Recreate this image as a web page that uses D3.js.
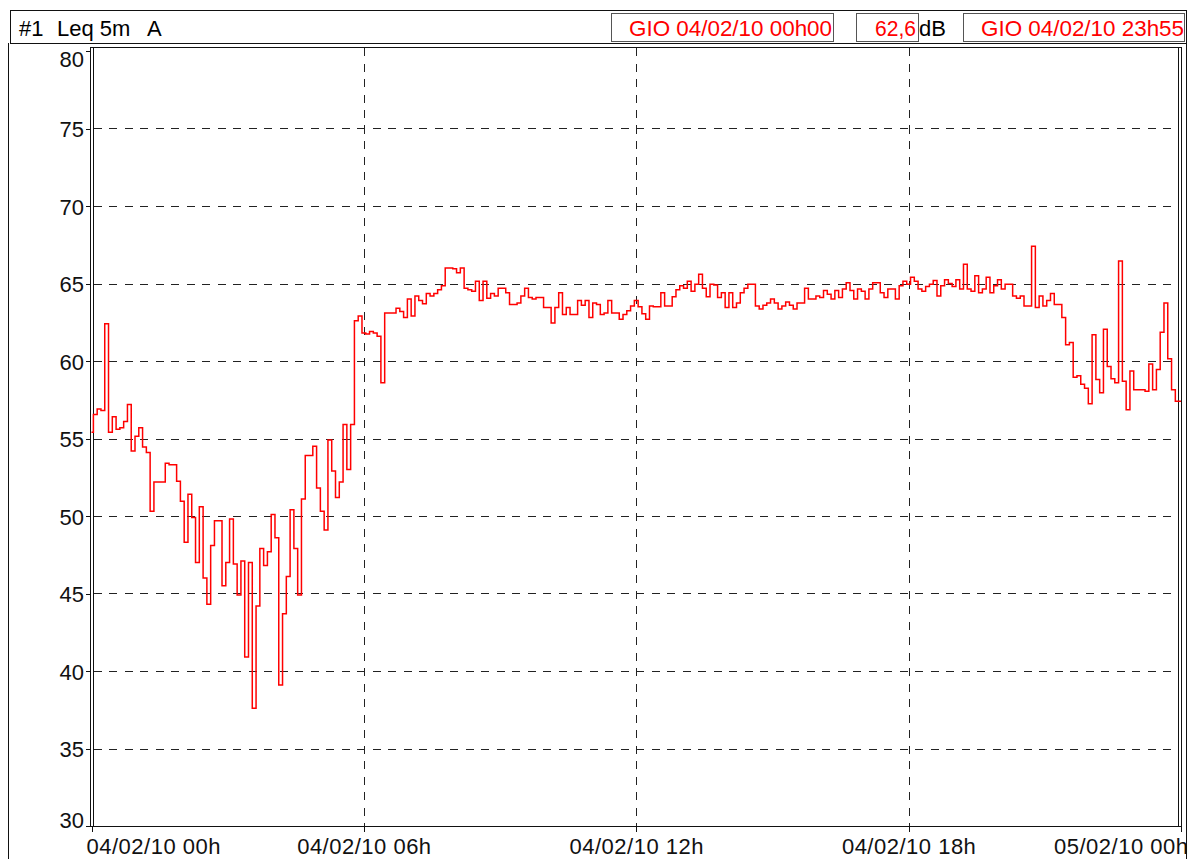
<!DOCTYPE html>
<html>
<head>
<meta charset="utf-8">
<title>Leq 5m A</title>
<style>
body { margin: 0; background: #fff; }
svg { display: block; font-family: "Liberation Sans", Arial, sans-serif; }
.grid line { stroke: #222; stroke-width: 1; stroke-dasharray: 8,7.5; shape-rendering: crispEdges; }
.frame { fill: none; stroke: #111; stroke-width: 1; shape-rendering: crispEdges; }
.trace { fill: none; stroke: #ff0000; stroke-width: 1.5; }
.axis text { font-size: 22px; fill: #111; }
.axis line { stroke: #111; shape-rendering: crispEdges; }
</style>
<script src="https://cdn.jsdelivr.net/npm/d3@7"></script>
</head>
<body>
<script>

// header texts
var channel = "#1";
var measure = "Leq 5m";
var weighting = "A";
var startStamp = "GIO 04/02/10 00h00";
var leqTotal = "62,6";
var unit = "dB";
var endStamp = "GIO 04/02/10 23h55";

// axes
var yTicks = [30, 35, 40, 45, 50, 55, 60, 65, 70, 75, 80];
var xTickHours = [0, 6, 12, 18, 24];
var xTickLabels = ["04/02/10 00h", "04/02/10 06h", "04/02/10 12h", "04/02/10 18h", "05/02/10 00h"];

// Leq 5 min, dB(A), one value every 5 minutes from 00h00 to 23h55
var leqValues = [
  55.4, 56.55, 56.9, 56.8, 62.4, 55.4, 56.4, 55.6, 55.7, 56.1, 57.2, 54.2,
  55.15, 55.7, 54.45, 54.1, 50.3, 52.2, 52.2, 52.2, 53.4, 53.3, 53.3, 52.25,
  50.95, 48.3, 51.4, 49.9, 47.0, 50.6, 46.0, 44.3, 48.1, 49.7, 49.7, 45.5,
  47.0, 49.8, 46.9, 44.9, 47.1, 40.9, 47.0, 37.6, 44.2, 47.9, 46.8, 47.7,
  50.1, 48.6, 39.1, 43.7, 46.1, 50.4, 47.9, 44.9, 51.1, 53.9, 53.9, 54.5,
  51.8, 50.3, 49.1, 54.9, 52.9, 51.2, 52.2, 55.9, 53.0, 55.9, 62.6, 62.9,
  61.8, 61.75, 61.9, 61.8, 61.6, 58.6, 63.1, 63.1, 63.1, 63.4, 63.2, 62.8,
  64.0, 62.9, 64.2, 63.9, 63.7, 64.35, 64.2, 64.35, 64.6, 64.85, 66.0, 66.0,
  65.95, 65.7, 66.0, 64.7, 64.6, 64.5, 65.15, 63.9, 65.15, 64.05, 64.35, 64.2,
  64.7, 64.7, 64.4, 63.65, 63.65, 63.75, 64.2, 64.7, 64.1, 64.0, 64.1, 64.1,
  63.45, 63.45, 62.45, 63.45, 64.4, 63.0, 63.45, 63.0, 63.0, 63.9, 63.6, 63.9,
  62.8, 63.75, 63.65, 63.0, 63.1, 63.9, 63.1, 63.1, 62.7, 63.0, 63.25, 63.55,
  63.9, 63.5, 63.05, 62.7, 63.55, 63.5, 63.5, 64.4, 63.55, 63.55, 64.15, 64.6,
  64.85, 64.7, 65.15, 64.5, 64.95, 65.6, 64.7, 64.15, 64.95, 64.9, 64.1, 64.4,
  63.45, 64.4, 63.45, 63.75, 64.4, 64.7, 64.95, 64.95, 63.55, 63.35, 63.6, 63.75,
  64.0, 63.75, 63.35, 63.55, 63.8, 63.6, 63.35, 63.75, 63.75, 64.7, 64.0, 64.0,
  64.2, 64.1, 64.55, 64.3, 64.0, 64.55, 64.1, 64.65, 65.05, 64.55, 64.0, 64.65,
  64.5, 64.0, 64.65, 65.05, 65.05, 64.4, 64.1, 64.65, 64.65, 64.0, 64.85, 65.15,
  64.95, 65.4, 65.15, 64.65, 64.5, 64.8, 64.95, 65.2, 64.2, 64.85, 65.25, 65.0,
  64.8, 65.25, 64.65, 66.25, 64.65, 64.5, 65.5, 64.4, 64.65, 65.4, 64.4, 64.85,
  65.25, 64.65, 64.95, 64.95, 64.2, 64.05, 64.2, 63.55, 63.55, 67.4, 63.45, 64.2,
  63.55, 63.9, 64.35, 63.65, 63.65, 62.8, 61.05, 61.2, 58.95, 59.05, 58.5, 58.25,
  57.25, 61.7, 58.8, 57.95, 62.05, 59.65, 58.85, 58.6, 66.45, 58.7, 56.85, 59.35,
  58.15, 58.15, 58.15, 58.05, 59.8, 58.15, 59.45, 61.85, 63.75, 60.15, 58.15, 57.4
];

var width = 1188, height = 859;

var svg = d3.select("body").append("svg")
    .attr("width", width)
    .attr("height", height);

// scales (hours since 04/02/10 00h00, dB)
var x = d3.scaleLinear().domain([0, 24]).range([91.5, 1181]);
var y = d3.scaleLinear().domain([30, 80]).range([826, 51]);

// outer frame + header
svg.append("line").attr("class", "frame").attr("x1", 8.5).attr("x2", 8.5).attr("y1", 43).attr("y2", height);
svg.append("line").attr("class", "frame").attr("x1", 1186.5).attr("x2", 1186.5).attr("y1", 43).attr("y2", height);
svg.append("rect").attr("class", "frame")
    .attr("x", 10.5).attr("y", 10.5).attr("width", 1176).attr("height", 33)
    .style("fill", "#fff");

var header = svg.append("g").style("font-size", "22px");
header.append("text").attr("x", 19).attr("y", 36).text(channel);
header.append("text").attr("x", 57).attr("y", 36).text(measure);
header.append("text").attr("x", 147).attr("y", 36).text(weighting);

var boxes = [
  {x: 611, w: 222, text: startStamp, tx: 832, len: 203},
  {x: 856, w: 62, text: leqTotal, tx: 916, len: 41},
  {x: 963, w: 221, text: endStamp, tx: 1184, len: 203}
];
boxes.forEach(function(b) {
  header.append("rect").attr("class", "frame")
      .attr("x", b.x + 0.5).attr("y", 13.5).attr("width", b.w).attr("height", 28)
      .style("stroke", "#555").style("fill", "#fff");
  header.append("text")
      .attr("x", b.tx).attr("y", 36)
      .attr("text-anchor", "end")
      .attr("textLength", b.len).attr("lengthAdjust", "spacingAndGlyphs")
      .attr("fill", "#ff0000")
      .text(b.text);
});
header.append("text").attr("x", 919).attr("y", 36).text(unit);

// grid
var grid = svg.append("g").attr("class", "grid");
grid.selectAll("line.h")
    .data(yTicks.filter(function(d) { return d > 30 && d < 80; }))
  .enter().append("line")
    .attr("class", "h")
    .attr("x1", x(0) + 2).attr("x2", x(24) - 3)
    .attr("y1", function(d) { return Math.round(y(d)) + 0.5; })
    .attr("y2", function(d) { return Math.round(y(d)) + 0.5; });
grid.selectAll("line.v")
    .data(xTickHours.filter(function(d) { return d > 0 && d < 24; }))
  .enter().append("line")
    .attr("class", "v")
    .attr("x1", function(d) { return Math.round(x(d)) + 0.5; })
    .attr("x2", function(d) { return Math.round(x(d)) + 0.5; })
    .attr("y1", 48).attr("y2", 826);

// plot frame (double line on the sides)
svg.append("rect").attr("class", "frame")
    .attr("x", 90.5).attr("y", 47.5).attr("width", 1091).attr("height", 779);
svg.append("line").attr("class", "frame").attr("x1", 93.5).attr("x2", 93.5).attr("y1", 47).attr("y2", 826);
svg.append("line").attr("class", "frame").attr("x1", 1178.5).attr("x2", 1178.5).attr("y1", 47).attr("y2", 826);

// y axis
var yAxis = svg.append("g")
    .attr("class", "axis")
    .attr("transform", "translate(90,0)")
    .call(d3.axisLeft(y).tickValues(yTicks).tickSize(4).tickPadding(2).tickFormat(d3.format("d")));
yAxis.select(".domain").remove();
yAxis.selectAll(".tick text")
    .attr("dy", null)
    .attr("y", function(d) {
      var base = Math.min(827, Math.max(66, y(d) + 8));
      return base - y(d);
    });

// x axis
var xAxis = svg.append("g")
    .attr("class", "axis")
    .attr("transform", "translate(0,826)")
    .call(d3.axisBottom(x).tickValues(xTickHours).tickSize(6)
      .tickFormat(function(d, i) { return xTickLabels[i]; }));
xAxis.select(".domain").remove();
xAxis.selectAll(".tick text")
    .attr("dy", null)
    .attr("y", 28)
    .style("letter-spacing", "0.5px")
    .attr("text-anchor", function(d) { return d === 0 ? "start" : (d === 24 ? "end" : "middle"); })
    .attr("x", function(d) { return d === 0 ? -5.5 : (d === 24 ? 7 : 0); });

// trace
var points = leqValues.map(function(v, i) { return {h: i * 5 / 60, v: v}; });
points.push({h: 24, v: leqValues[leqValues.length - 1]});

var line = d3.line()
    .x(function(d) { return x(d.h); })
    .y(function(d) { return y(d.v); })
    .curve(d3.curveStep);

svg.append("path")
    .datum(points)
    .attr("class", "trace")
    .attr("d", line);

</script>
</body>
</html>
